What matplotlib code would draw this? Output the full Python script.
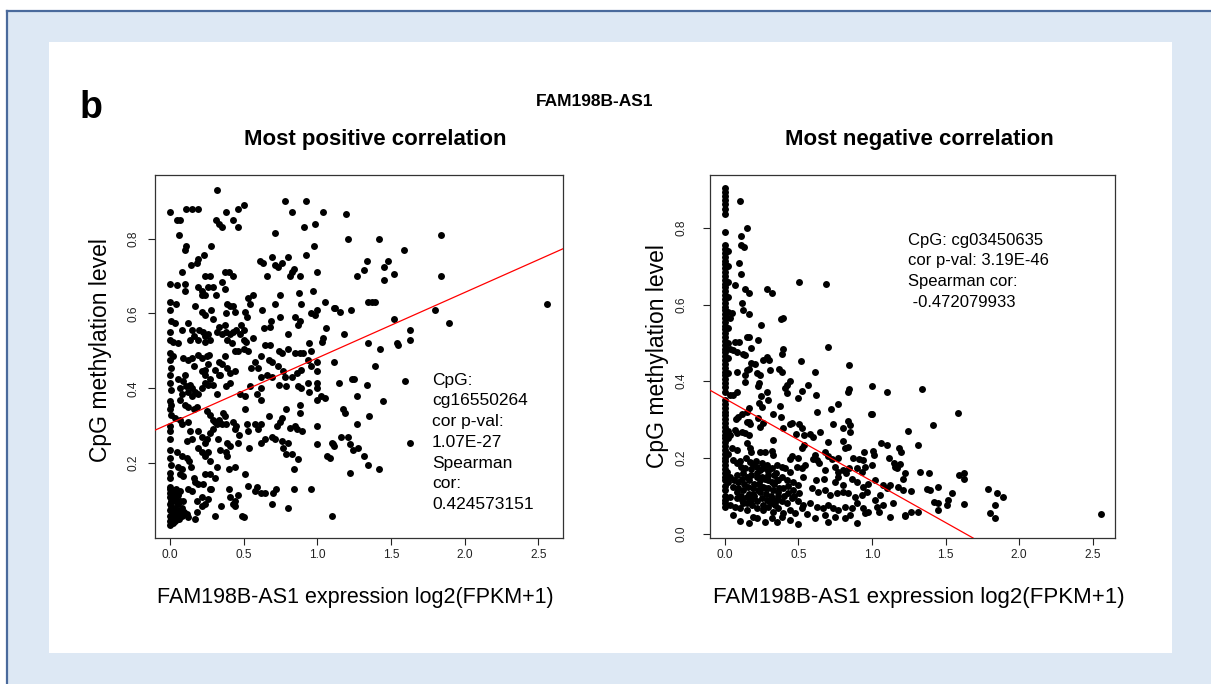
import numpy as np
import matplotlib
matplotlib.use("Agg")
import matplotlib.pyplot as plt
from matplotlib.patches import Rectangle
from matplotlib.lines import Line2D

plt.rcParams['font.family'] = ['Liberation Sans', 'DejaVu Sans']

# --- datos (expresion, metilacion) ---
# panel izquierdo: correlacion positiva (cg16550264)
pos_upper = [(0.32,0.93),(0.00,0.87),(0.045,0.85),(0.07,0.85),(0.11,0.88),(0.15,0.88),(0.19,0.88),(0.06,0.81),
             (0.31,0.85),(0.33,0.84),(0.35,0.83),(0.38,0.87),(0.43,0.85),(0.46,0.83),(0.46,0.88),(0.50,0.89),
             (0.78,0.90),(0.92,0.90),(0.83,0.87),(1.04,0.87),(0.985,0.84),(0.91,0.83),(0.71,0.815),
             (0.11,0.78),(0.10,0.77),(0.28,0.78),(0.14,0.73),(0.18,0.735),(0.19,0.745),(0.23,0.755),(0.08,0.71),
             (0.98,0.78),(0.92,0.755),(0.61,0.74),(0.63,0.735),(0.69,0.75),(0.71,0.73),(0.73,0.725),(0.76,0.735),
             (0.80,0.75),(0.66,0.70),(0.84,0.72),(0.825,0.71),(0.815,0.70),(0.88,0.70),(1.00,0.71),(0.24,0.70),
             (0.27,0.70),(0.375,0.71),(0.40,0.71),(0.43,0.70),
             (0.00,0.68),(0.045,0.675),(0.10,0.68),(0.10,0.66),(0.19,0.67),(0.215,0.66),(0.24,0.65),(0.26,0.67),
             (0.29,0.67),(0.31,0.65),(0.35,0.685),(0.37,0.665),(0.22,0.65),(0.00,0.63),(0.04,0.625),(0.00,0.61),
             (0.17,0.62),(0.215,0.605),(0.24,0.595),(0.28,0.61),(0.29,0.585),(0.385,0.625),(0.41,0.62),(0.425,0.62),
             (0.38,0.60),(0.44,0.605),(0.54,0.625),(0.56,0.65),(0.53,0.64),(0.51,0.605),(0.52,0.59),(0.71,0.625),
             (0.75,0.65),(0.625,0.61),(0.75,0.59),(0.89,0.625),(0.875,0.655),(0.97,0.66),(0.995,0.61),(0.985,0.595),
             (1.05,0.63),(0.96,0.60),(1.11,0.615),(0.85,0.59),(0.885,0.58),(0.87,0.57),(0.685,0.58),(0.68,0.565),
             (0.64,0.56)]
pos_middle = [(0.01,0.58),(0.034,0.575),(0.08,0.555),(0.12,0.575),(0.147,0.555),(0.16,0.54),(0.136,0.53),(0.20,0.555),
              (0.226,0.55),(0.24,0.54),(0.26,0.545),(0.27,0.53),(0.32,0.55),(0.33,0.565),(0.37,0.57),(0.35,0.545),
              (0.38,0.55),(0.41,0.545),(0.43,0.55),(0.45,0.555),(0.48,0.57),(0.505,0.555),(0.475,0.545),(0.50,0.53),
              (0.515,0.525),(0.56,0.535),(0.00,0.55),(0.00,0.53),(0.023,0.525),(0.057,0.52),(0.19,0.53),(0.24,0.525),
              (0.44,0.50),(0.46,0.50),(0.50,0.505),(0.53,0.50),(0.39,0.53),(0.42,0.52),(0.645,0.515),(0.68,0.515),
              (0.74,0.50),(0.76,0.495),(0.80,0.505),(0.85,0.495),(0.80,0.545),(0.88,0.495),(0.905,0.495),(0.945,0.52),
              (0.96,0.50),(1.03,0.525),(1.06,0.56),(1.04,0.535),(0.94,0.475),(0.96,0.46),(0.995,0.47),(1.00,0.445),
              (0.00,0.495),(0.023,0.485),(0.00,0.475),(0.007,0.455),(0.09,0.48),(0.124,0.475),(0.15,0.48),(0.16,0.46),
              (0.19,0.49),(0.215,0.48),(0.25,0.485),(0.265,0.49),(0.26,0.465),(0.24,0.45),(0.215,0.445),(0.33,0.47),
              (0.35,0.465),(0.37,0.485),(0.39,0.455),(0.44,0.445),(0.41,0.44),(0.305,0.45),(0.33,0.435),(0.55,0.455),
              (0.58,0.47),(0.60,0.455),(0.62,0.485),(0.67,0.475),(0.69,0.47),(0.735,0.46),(0.77,0.445),(0.78,0.43),
              (0.825,0.43),(0.86,0.44),(0.89,0.45),(0.655,0.435),(0.69,0.43),(0.62,0.43),
              (0.00,0.435),(0.00,0.415),(0.01,0.395),(0.057,0.425),(0.09,0.42),(0.10,0.435),(0.11,0.405),(0.136,0.41),
              (0.147,0.40),(0.17,0.39),(0.19,0.385),(0.215,0.40),(0.24,0.415),(0.26,0.41),(0.27,0.425),(0.24,0.435),
              (0.29,0.41),(0.32,0.385),(0.34,0.435),(0.38,0.405),(0.41,0.415),(0.068,0.40),(0.08,0.385),(0.068,0.37),
              (0.124,0.39),(0.147,0.38),(0.475,0.385),(0.51,0.38),(0.54,0.405),(0.59,0.385),(0.62,0.40),(0.62,0.37),
              (0.74,0.41),(0.79,0.405),(0.87,0.405),(0.89,0.40),(0.935,0.415),(0.945,0.39),(1.00,0.415),(1.00,0.40),
              (1.025,0.38),(1.05,0.375),(0.995,0.37)]
pos_lower = [(0.00,0.365),(0.00,0.345),(0.01,0.355),(0.10,0.355),(0.124,0.35),(0.16,0.345),(0.18,0.35),(0.25,0.34),
             (0.27,0.33),(0.29,0.315),(0.32,0.305),(0.305,0.31),(0.33,0.315),(0.35,0.305),(0.38,0.305),(0.36,0.335),
             (0.37,0.325),(0.43,0.31),(0.45,0.30),(0.44,0.29),(0.51,0.345),(0.52,0.305),(0.53,0.285),(0.58,0.305),
             (0.62,0.305),(0.60,0.29),(0.67,0.325),(0.725,0.30),(0.75,0.31),(0.76,0.32),(0.785,0.345),(0.815,0.295),
             (0.85,0.30),(0.86,0.29),(0.895,0.285),(0.88,0.335),(0.88,0.355),(1.00,0.30),(0.01,0.33),(0.034,0.32),
             (0.068,0.315),(0.08,0.305),
             (0.00,0.30),(0.00,0.285),(0.00,0.265),(0.124,0.31),(0.136,0.285),(0.147,0.265),(0.113,0.26),(0.19,0.285),
             (0.215,0.27),(0.24,0.255),(0.25,0.265),(0.27,0.28),(0.29,0.29),(0.325,0.265),(0.34,0.235),(0.385,0.255),
             (0.41,0.245),(0.38,0.23),(0.19,0.24),(0.215,0.23),(0.24,0.22),(0.26,0.23),(0.46,0.255),(0.47,0.275),
             (0.535,0.24),(0.62,0.255),(0.645,0.265),(0.69,0.27),(0.71,0.265),(0.76,0.26),(0.77,0.24),(0.79,0.225),
             (0.80,0.255),(0.825,0.225),(0.87,0.21),(0.845,0.185),(1.00,0.25),(1.10,0.255),(1.063,0.22),(1.085,0.215),
             (0.00,0.235),(0.00,0.215),(0.01,0.195),(0.045,0.23),(0.08,0.22),(0.113,0.215),(0.13,0.205),(0.143,0.19),
             (0.08,0.185),(0.057,0.19),(0.068,0.17),(0.09,0.165),(0.16,0.16),(0.17,0.15),(0.19,0.145),(0.226,0.145),
             (0.24,0.17),(0.27,0.17),(0.305,0.16),(0.27,0.205),(0.32,0.19),(0.385,0.22),(0.40,0.185),(0.44,0.19),
             (0.51,0.17),(0.53,0.14),(0.59,0.135),(0.00,0.175),(0.00,0.16),(0.00,0.135),
             (0.124,0.13),(0.147,0.125),(0.18,0.10),(0.215,0.11),(0.26,0.105),(0.27,0.13),(0.28,0.13),(0.40,0.13),
             (0.41,0.11),(0.44,0.10),(0.46,0.115),(0.43,0.09),(0.44,0.085),(0.58,0.125),(0.62,0.12),(0.645,0.12),
             (0.69,0.09),(0.72,0.13),(0.70,0.12),(0.845,0.13),(0.96,0.13),(0.80,0.08),(0.346,0.085),(0.305,0.06),
             (0.49,0.06),(0.50,0.055),(0.18,0.07),(0.17,0.05),(0.124,0.055),(0.097,0.07),(0.113,0.065),(0.08,0.08),
             (0.24,0.09),(0.215,0.085),(1.10,0.06)]
pos_cluster = [(0.00,0.13),(0.00,0.12),(0.00,0.11),(0.007,0.10),(0.00,0.09),(0.01,0.085),(0.00,0.075),(0.023,0.07),
               (0.00,0.06),(0.01,0.05),(0.00,0.045),(0.00,0.035),(0.034,0.115),(0.045,0.095),(0.057,0.09),(0.034,0.08),
               (0.023,0.055),(0.045,0.06),(0.034,0.045),(0.057,0.07),(0.068,0.075),(0.057,0.115),(0.068,0.10),(0.03,0.125),
               (0.02,0.10),(0.04,0.13),(0.05,0.05),(0.02,0.04),(0.06,0.05),(0.015,0.065),(0.04,0.105),(0.07,0.125),
               (0.08,0.06),(0.09,0.10)]
pos_tail = [(1.195,0.865),(1.21,0.80),(1.416,0.80),(1.84,0.81),(1.59,0.77),(1.34,0.74),(1.32,0.715),(1.27,0.70),
            (1.48,0.74),(1.455,0.725),(1.52,0.705),(1.455,0.69),(1.84,0.70),(1.346,0.63),(1.37,0.63),(1.39,0.63),
            (1.23,0.61),(1.154,0.605),(1.12,0.615),(1.80,0.61),(2.556,0.625),(1.894,0.575),(1.52,0.585),(1.63,0.555),
            (1.63,0.53),(1.54,0.52),(1.55,0.515),(1.18,0.545),(1.346,0.52),(1.425,0.505),(1.11,0.47),(1.39,0.46),
            (1.233,0.425),(1.25,0.425),(1.147,0.415),(1.34,0.41),(1.595,0.42),(1.267,0.38),(1.445,0.365),(1.176,0.345),
            (1.19,0.335),(1.348,0.325),(1.267,0.305),(1.63,0.255),(1.16,0.27),(1.21,0.27),(1.22,0.25),(1.244,0.235),
            (1.278,0.24),(1.104,0.25),(1.115,0.245),(1.32,0.22),(1.346,0.195),(1.416,0.185),(1.22,0.175)]

# panel derecho: correlacion negativa (cg03450635)
neg_column = [(0.0,0.905),(0.0,0.895),(0.0,0.885),(0.0,0.873),(0.0,0.862),(0.0,0.851),(0.0,0.838),(0.0,0.79),
              (0.0,0.756),(0.0,0.745),(0.0,0.735),(0.0,0.725),(0.0,0.715),(0.0,0.705),(0.0,0.695),(0.0,0.685),
              (0.0,0.675),(0.0,0.665),(0.0,0.655),(0.0,0.645),(0.0,0.635),(0.0,0.625),(0.0,0.615),(0.0,0.605),
              (0.0,0.595),(0.0,0.585),(0.0,0.575),(0.0,0.565),(0.0,0.555),(0.0,0.545),(0.0,0.535),(0.0,0.525),
              (0.0,0.515),(0.0,0.505),(0.0,0.495),(0.0,0.485),(0.0,0.475),(0.0,0.465),(0.0,0.455),(0.0,0.445),
              (0.0,0.435),(0.0,0.425),(0.0,0.415),(0.0,0.405),(0.0,0.395),(0.0,0.385),(0.0,0.372),(0.0,0.35),
              (0.0,0.34),(0.0,0.33),(0.0,0.32),(0.0,0.31),(0.0,0.30),(0.0,0.29),(0.0,0.28),(0.0,0.27),
              (0.0,0.26),(0.0,0.25),(0.0,0.24),(0.0,0.23),(0.0,0.22),(0.0,0.21),(0.0,0.20),(0.0,0.19),
              (0.0,0.18),(0.0,0.17),(0.0,0.16),(0.0,0.15),(0.0,0.14),(0.0,0.125),(0.0,0.115),(0.0,0.10),
              (0.0,0.09),(0.0,0.08),(0.0,0.07),
              (0.02,0.74),(0.02,0.70),(0.02,0.66),(0.02,0.62),(0.02,0.58),(0.02,0.54),(0.02,0.50),(0.02,0.46),
              (0.02,0.42),(0.02,0.27),(0.02,0.21)]
neg_upper = [(0.10,0.87),(0.15,0.80),(0.107,0.78),(0.107,0.755),(0.13,0.75),(0.098,0.71),(0.107,0.68),(0.068,0.65),
             (0.136,0.64),(0.16,0.63),(0.288,0.64),(0.317,0.63),(0.503,0.66),(0.687,0.655),(0.118,0.605),(0.12,0.585),
             (0.16,0.575),(0.045,0.577),(0.034,0.564),(0.38,0.562),(0.397,0.566),(0.245,0.546),(0.147,0.516),(0.166,0.516),
             (0.227,0.507),(0.068,0.503),(0.098,0.503),(0.175,0.487),(0.703,0.49),(0.034,0.485),(0.057,0.481),(0.079,0.477),
             (0.12,0.472),(0.136,0.468),(0.397,0.485),(0.385,0.472),(0.283,0.464),(0.26,0.455),(0.30,0.455),(0.517,0.452),
             (0.18,0.448),(0.204,0.444),(0.843,0.442),(0.147,0.43),(0.166,0.431),(0.084,0.424),(0.306,0.43),(0.37,0.431),
             (0.385,0.424),(0.615,0.424),(0.215,0.42),(0.238,0.416),(0.136,0.417),(0.136,0.398),(0.234,0.394),(0.227,0.388),
             (0.442,0.40),(0.424,0.39),(0.408,0.381),(0.565,0.39),(0.522,0.374),(0.499,0.355),(0.079,0.372),(0.057,0.363),
             (0.034,0.363),(0.283,0.372),(0.245,0.362),(0.619,0.363),(1.0,0.387),(1.1,0.372),(0.839,0.372),(0.846,0.379),
             (0.424,0.368),(0.234,0.343),(0.25,0.333),(0.295,0.35),(0.374,0.335),(0.771,0.339),(0.72,0.326),(0.624,0.32),
             (0.993,0.315),(1.002,0.314),(0.166,0.329),(0.147,0.32),(0.113,0.315),(0.09,0.307),(0.075,0.302),(0.329,0.314),
             (0.381,0.307),(0.227,0.304),(0.238,0.281),(0.26,0.289),(0.147,0.294),(0.166,0.292),(0.17,0.287),(0.454,0.289),
             (0.442,0.287),(0.506,0.287),(0.522,0.276),(0.737,0.287),(0.839,0.295),(0.85,0.285),(0.80,0.276),(0.85,0.268),
             (0.397,0.276),(0.483,0.262),(0.537,0.259),(0.578,0.261),(0.596,0.254),(0.646,0.268),(0.066,0.272),(0.079,0.263),
             (0.113,0.267),(0.136,0.263),(0.16,0.259),(0.034,0.259),(0.023,0.25),(0.329,0.246),(0.703,0.241),(0.805,0.243),
             (1.059,0.237),(1.104,0.233),(1.186,0.224),(1.20,0.214),(1.247,0.269)]
neg_lower = [(0.045,0.224),(0.079,0.22),(0.15,0.237),(0.17,0.226),(0.18,0.215),(0.238,0.215),(0.272,0.215),(0.317,0.217),
             (0.329,0.207),(0.522,0.224),(0.537,0.233),(0.816,0.224),(0.839,0.228),(0.68,0.215),(0.612,0.207),(0.946,0.215),
             (1.005,0.217),(1.014,0.207),(0.454,0.205),(0.442,0.197),(0.499,0.20),(0.703,0.205),(0.726,0.197),(0.771,0.20),
             (0.873,0.20),(0.914,0.197),(0.936,0.193),(1.113,0.20),(1.147,0.185),(1.17,0.172),(0.60,0.197),(0.624,0.193),
             (0.057,0.193),(0.079,0.185),(0.107,0.176),(0.136,0.172),(0.17,0.189),(0.193,0.18),(0.215,0.176),(0.238,0.167),
             (0.26,0.172),(0.283,0.18),(0.317,0.172),(0.351,0.18),(0.385,0.176),(0.408,0.172),(0.442,0.163),(0.488,0.176),
             (0.522,0.172),(0.544,0.18),(0.642,0.185),(0.68,0.167),(0.748,0.176),(0.771,0.163),(0.80,0.167),(0.823,0.159),
             (0.846,0.172),(0.896,0.172),(0.93,0.163),(0.952,0.176),(0.998,0.18),(1.224,0.159),(1.213,0.145),(0.011,0.163),
             (0.034,0.15),(0.023,0.137),(0.079,0.154),(0.113,0.145),(0.147,0.15),(0.18,0.154),(0.215,0.15),(0.238,0.141),
             (0.272,0.145),(0.295,0.154),(0.317,0.137),(0.351,0.141),(0.385,0.15),(0.42,0.141),(0.46,0.137),(0.499,0.128),
             (0.533,0.15),(0.619,0.141),(0.676,0.145),(0.748,0.137),(0.771,0.15),(0.805,0.128),(0.862,0.145),(0.896,0.137),
             (0.941,0.124),(0.975,0.132),(1.02,0.141),(1.077,0.128),(1.10,0.119),(1.122,0.128),(1.179,0.124),(1.211,0.115),
             (0.057,0.124),(0.09,0.119),(0.125,0.115),(0.159,0.124),(0.193,0.119),(0.227,0.115),(0.26,0.124),(0.295,0.119),
             (0.329,0.115),(0.363,0.111),(0.397,0.119),(0.431,0.106),(0.465,0.115),(0.506,0.106),(0.59,0.119),(0.635,0.111),
             (0.68,0.115),(0.714,0.102),(0.76,0.106),(0.805,0.111),(0.839,0.106),(0.884,0.098),(0.93,0.102),(0.964,0.111),
             (1.02,0.089),(1.054,0.102),(0.034,0.098),(0.079,0.093),(0.113,0.089),(0.147,0.098),(0.18,0.089),(0.215,0.085),
             (0.249,0.093),(0.283,0.089),(0.317,0.08),(0.351,0.089),(0.385,0.085),(0.42,0.08),(0.454,0.093),(0.499,0.085),
             (0.533,0.076),(0.578,0.08),(0.624,0.071),(0.669,0.067),(0.703,0.076),(0.737,0.067),(0.771,0.063),(0.816,0.071),
             (0.862,0.067),(0.896,0.08),(0.937,0.067),(0.975,0.058),(1.032,0.071),(1.077,0.076),(1.145,0.08),(1.224,0.05),
             (0.034,0.076),(0.068,0.071),(0.102,0.067),(0.147,0.063),(0.181,0.076),(0.215,0.067),(0.26,0.063),(0.295,0.071),
             (0.329,0.058),(0.363,0.067),(0.397,0.054),(0.442,0.063),(0.476,0.054),(0.522,0.067),(0.057,0.05),(0.102,0.034),
             (0.166,0.028),(0.188,0.045),(0.215,0.041),(0.272,0.032),(0.317,0.041),(0.351,0.032),(0.385,0.045),(0.442,0.037),
             (0.499,0.025),(0.56,0.051),(0.612,0.041),(0.68,0.05),(0.698,0.032),(0.748,0.045),(0.816,0.041),(0.85,0.05),
             (0.896,0.028),(0.952,0.054),(1.05,0.058),(1.122,0.045)]
neg_cluster = [(0.10,0.19),(0.12,0.16),(0.14,0.20),(0.16,0.14),(0.18,0.17),(0.20,0.13),(0.22,0.16),(0.20,0.10),
               (0.23,0.13),(0.25,0.15),(0.27,0.12),(0.29,0.14),(0.31,0.10),(0.33,0.13),(0.35,0.16),(0.37,0.12),
               (0.13,0.13),(0.11,0.10),(0.15,0.08),(0.19,0.105),(0.24,0.11),(0.28,0.105),(0.32,0.095),(0.36,0.10),
               (0.40,0.10),(0.43,0.125),(0.47,0.10),(0.26,0.075),(0.30,0.085),(0.34,0.075),(0.12,0.08),(0.08,0.11),
               (0.06,0.14),(0.09,0.135),(0.16,0.105),(0.21,0.19),(0.25,0.185),(0.29,0.165),(0.33,0.155),(0.36,0.14)]
neg_tail = [(1.338,0.38),(1.583,0.317),(1.413,0.284),(1.315,0.232),(1.329,0.163),(1.385,0.16),(1.19,0.184),(1.157,0.176),
            (1.594,0.154),(1.628,0.16),(1.628,0.145),(1.447,0.123),(1.372,0.117),(1.395,0.115),(1.265,0.112),(1.542,0.106),
            (1.52,0.089),(1.512,0.076),(1.422,0.083),(1.451,0.082),(1.451,0.063),(1.263,0.058),(1.315,0.058),(1.628,0.078),
            (1.79,0.117),(1.848,0.108),(1.889,0.096),(1.837,0.076),(1.803,0.056),(1.837,0.043),(2.556,0.052),(1.224,0.047)]

# recta de regresion (intercepto, pendiente)
pos_fit = (0.306, 0.175)
neg_fit = (0.354, -0.216)

x_ticks = [0.0, 0.5, 1.0, 1.5, 2.0, 2.5]
pos_yticks = [0.2, 0.4, 0.6, 0.8]
neg_yticks = [0.0, 0.2, 0.4, 0.6, 0.8]

pos_text = ["CpG:", "cg16550264", "cor p-val:", "1.07E-27", "Spearman", "cor:", "0.424573151"]
neg_text = ["CpG: cg03450635", "cor p-val: 3.19E-46", "Spearman cor:", " -0.472079933"]

W, H = 1211, 684
def fx(p):
    return p / W
def fy(p):
    return 1 - p / H

fig = plt.figure(figsize=(W / 100, H / 100), dpi=100)
fig.patch.set_facecolor("white")

# fondo azul con borde y panel blanco
fig.patches.append(Rectangle((fx(7), 0), 1, fy(11), transform=fig.transFigure,
                             facecolor="#dde8f4", edgecolor="none", zorder=-3))
fig.patches.append(Rectangle((fx(49), fy(653)), fx(1172) - fx(49), fy(42) - fy(653),
                             transform=fig.transFigure, facecolor="white", edgecolor="none", zorder=-2))
fig.add_artist(Line2D([fx(6.5), fx(6.5)], [0, fy(10.5)], color="#4a6a9c", lw=1.6))
fig.add_artist(Line2D([fx(6.5), 1], [fy(10.5), fy(10.5)], color="#4a6a9c", lw=1.6))


def panel(rect, grupos, fit, xlim, ylim, yticks, ypad):
    ax = fig.add_axes(rect)
    pts = np.array([p for g in grupos for p in g])
    ax.scatter(pts[:, 0], pts[:, 1], s=25, c="black", linewidths=0, zorder=2)
    ax.axline((0, fit[0]), slope=fit[1], color="red", lw=0.9, zorder=3)
    ax.set_xlim(*xlim)
    ax.set_ylim(*ylim)
    ax.set_xticks(x_ticks)
    ax.set_xticklabels([f"{t:.1f}" for t in x_ticks])
    ax.set_yticks(yticks)
    ax.set_yticklabels([f"{t:.1f}" for t in yticks])
    ax.tick_params(direction="out", length=5, width=0.8, labelsize=8.6, colors="#222222")
    ax.tick_params(axis="x", pad=3)
    ax.tick_params(axis="y", pad=ypad)
    plt.setp(ax.get_yticklabels(), rotation=90, va="center", ha="right")
    for s in ax.spines.values():
        s.set_linewidth(0.9)
        s.set_color("#333333")
    return ax


ax1 = panel([fx(155), fy(538), fx(563) - fx(155), fy(175) - fy(538)],
            [pos_upper, pos_middle, pos_lower, pos_cluster, pos_tail], pos_fit,
            (-0.102, 2.668), (0.0, 0.97), pos_yticks, 6)
ax2 = panel([fx(710), fy(538), fx(1115) - fx(710), fy(175) - fy(538)],
            [neg_column, neg_upper, neg_lower, neg_cluster, neg_tail], neg_fit,
            (-0.102, 2.653), (-0.0105, 0.939), neg_yticks, 11)

# textos
fig.text(fx(80), fy(118), "b", fontsize=27, fontweight="bold", ha="left", va="baseline")
fig.text(fx(595), fy(101), "FAM198B-AS1", fontsize=12.5, fontweight="bold", ha="center", va="center")
fig.text(fx(375), fy(139), "Most positive correlation", fontsize=16, fontweight="bold", ha="center", va="center")
fig.text(fx(919), fy(139), "Most negative correlation", fontsize=16, fontweight="bold", ha="center", va="center")
fig.text(fx(355), fy(598), "FAM198B-AS1 expression log2(FPKM+1)", fontsize=15.5, ha="center", va="center")
fig.text(fx(919), fy(598), "FAM198B-AS1 expression log2(FPKM+1)", fontsize=16, ha="center", va="center")
fig.text(fx(100), fy(350), "CpG methylation level", fontsize=16.5, rotation=90, ha="center", va="center")
fig.text(fx(658), fy(356), "CpG methylation level", fontsize=16.5, rotation=90, ha="center", va="center")

for i, linea in enumerate(pos_text):
    fig.text(fx(432), fy(380 + 20.8 * i), linea, fontsize=12.5, ha="left", va="center")
for i, linea in enumerate(neg_text):
    fig.text(fx(908), fy(240 + 21 * i), linea, fontsize=12, ha="left", va="center")

fig.savefig("out.png", dpi=100)
